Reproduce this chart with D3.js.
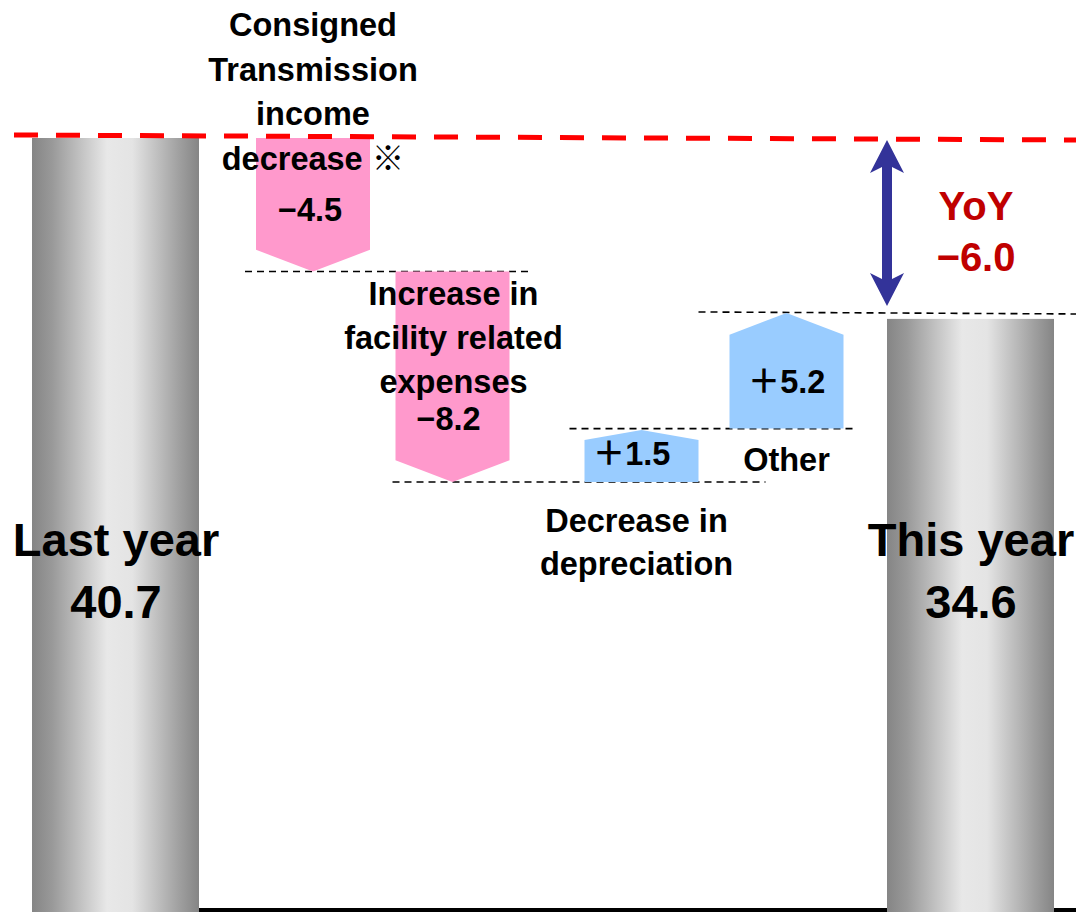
<!DOCTYPE html>
<html>
<head>
<meta charset="utf-8">
<script src="https://cdn.jsdelivr.net/npm/d3@7"></script>
<style>
  html, body { margin: 0; padding: 0; background: #fff; }
  svg { display: block; }
  text { font-family: "Liberation Sans", Arial, "Noto Sans CJK JP", sans-serif; font-weight: bold; }
</style>
</head>
<body>
<script>
// ---------------- data ----------------
const categories = ["Last year", "Transmission income", "Facility expenses", "Depreciation", "Other", "This year"];
const totalNames = ["Last year", "This year"];
const totalValues = [40.7, 34.6];
const totalLabels = ["40.7", "34.6"];

const stepNames = [
  ["Consigned", "Transmission", "income", "decrease ※"],
  ["Increase in", "facility related", "expenses"],
  ["Decrease in", "depreciation"],
  ["Other"]
];
const stepValues = [-4.5, -8.2, 1.5, 5.2];           // as labelled
const stepValueLabels = ["−4.5", "−8.2", "＋1.5", "＋5.2"];
// levels of each floating arrow as drawn in the picture
const stepFrom = [40.7, 36.2, 29.1, 30.9];
const stepTo   = [36.2, 29.1, 30.85, 34.8];

const yoyLabels = ["YoY", "−6.0"];
const valueDomain = [14.6, 40.7];

// ---------------- layout ----------------
const W = 1076, H = 912;
const svg = d3.select("body").append("svg").attr("width", W).attr("height", H);

const y = d3.scaleLinear().domain(valueDomain).range([H, 138]);
const x = d3.scaleOrdinal().domain(categories).range([115.5, 313, 452.5, 641.5, 786.5, 970.5]);
const bigW = 167, smallW = 114;

const defs = svg.append("defs");
const grad = defs.append("linearGradient").attr("id", "greyGrad")
  .attr("x1", "0%").attr("x2", "100%").attr("y1", "0%").attr("y2", "0%");
[[0, "#858585"], [0.12, "#999999"], [0.45, "#e8e8e8"], [0.6, "#e4e4e4"], [0.88, "#a0a0a0"], [1, "#858585"]]
  .forEach(([o, c]) => grad.append("stop").attr("offset", o).attr("stop-color", c));

// baseline
svg.append("line")
  .attr("x1", x(totalNames[0]) + bigW / 2).attr("x2", W)
  .attr("y1", y(valueDomain[0]) - 2).attr("y2", y(valueDomain[0]) - 2)
  .attr("stroke", "#000").attr("stroke-width", 4);

// total bars
svg.selectAll("rect.total").data(totalNames).join("rect")
  .attr("class", "total")
  .attr("x", d => x(d) - bigW / 2)
  .attr("width", bigW)
  .attr("y", (d, i) => y(totalValues[i]))
  .attr("height", (d, i) => y(valueDomain[0]) - y(totalValues[i]))
  .attr("fill", "url(#greyGrad)");

// connector dashed lines (level after each step)
const connPad = [[11, 23], [3, 67], [15, 14], [31, null]];
stepTo.forEach((lv, i) => {
  const c0 = categories[i + 1];
  const c1 = categories[i + 2];
  const x1 = x(c0) - smallW / 2 - connPad[i][0];
  const x2 = (i < 3) ? x(c1) + smallW / 2 + connPad[i][1] : W;
  const yy = (i < 3) ? y(stepFrom[i + 1]) : y(lv) - 1;
  svg.append("line")
    .attr("x1", x1).attr("x2", x2)
    .attr("y1", yy).attr("y2", (i < 3) ? yy : yy + 2)
    .attr("stroke", "#000").attr("stroke-width", 1.6)
    .attr("stroke-dasharray", "7,5");
});

// step arrows (pentagon shapes)
function blockArrow(cx, w, yBase, yTip) {
  const s = Math.sign(yTip - yBase);
  const t = 0.19 * Math.min(w, Math.abs(yTip - yBase));
  return [
    [cx - w / 2, yBase], [cx + w / 2, yBase],
    [cx + w / 2, yTip - s * t], [cx, yTip], [cx - w / 2, yTip - s * t]
  ];
}
const line = d3.line();
stepValues.forEach((v, i) => {
  const cx = x(categories[i + 1]);
  svg.append("path")
    .attr("d", line(blockArrow(cx, smallW, y(stepFrom[i]), y(stepTo[i]))) + "Z")
    .attr("fill", v < 0 ? "#ff99cc" : "#99ccff");
});

// red dashed line at last year's level
svg.append("line")
  .attr("x1", 14).attr("x2", W)
  .attr("y1", y(totalValues[0]) - 3).attr("y2", y(totalValues[0]) + 2)
  .attr("stroke", "#ff0000").attr("stroke-width", 5)
  .attr("stroke-dasharray", "24,18");

// YoY double arrow
(function () {
  const x0 = x(totalNames[1]) - bigW / 2;
  const y1 = y(totalValues[0]) + 2, y2 = y(stepTo[3]) - 7;
  const hw = 17, hl = 33, nt = 6, sw = 5;
  const pts = [
    [x0, y1], [x0 + hw, y1 + hl], [x0 + sw, y1 + hl - nt], [x0 + sw, y2 - hl + nt],
    [x0 + hw, y2 - hl], [x0, y2], [x0 - hw, y2 - hl], [x0 - sw, y2 - hl + nt],
    [x0 - sw, y1 + hl - nt], [x0 - hw, y1 + hl]
  ];
  svg.append("path").attr("d", line(pts) + "Z").attr("fill", "#333399");
})();

// ---------------- text ----------------
const fs = 32.5;
function txt(str, cx, by, size, color) {
  svg.append("text").attr("x", cx).attr("y", by)
    .attr("text-anchor", "middle")
    .attr("font-size", size).attr("fill", color || "#000")
    .text(str);
}

// step 0: name lines stacked upward ending just under red line
(function () {
  const cx = x(categories[1]);
  const names = stepNames[0];
  const lastY = y(stepFrom[0]) + 32;
  names.forEach((n, k) => txt(n, cx, lastY - (names.length - 1 - k) * 44.7, fs));
  txt(stepValueLabels[0], cx - 3, y(stepFrom[0]) + 83, fs);
})();
// step 1
(function () {
  const cx = x(categories[2]);
  const firstY = y(stepFrom[1]) + 34;
  stepNames[1].forEach((n, k) => txt(n, cx + 1, firstY + k * 44, fs));
  txt(stepValueLabels[1], cx - 4, y(stepTo[1]) - 52, fs);
})();
// step 2
(function () {
  const cx = x(categories[3]);
  txt(stepValueLabels[2], cx - 10, y(stepFrom[2]) - 17, fs);
  const firstY = y(stepFrom[2]) + 50;
  stepNames[2].forEach((n, k) => txt(n, cx - 5, firstY + k * 43, fs));
})();
// step 3
(function () {
  const cx = x(categories[4]);
  txt(stepValueLabels[3], cx, y(stepFrom[3]) - 36, fs);
  txt(stepNames[3][0], cx, y(stepFrom[3]) + 42, fs);
})();

// totals
totalNames.forEach((n, i) => {
  const cx = x(n) + 0.5;
  txt(n, cx, 556, 47);
  txt(totalLabels[i], cx, 618, 47);
});

// YoY label
txt(yoyLabels[0], 976, 220, 40, "#c00000");
txt(yoyLabels[1], 976, 271, 40, "#c00000");
</script>
</body>
</html>
